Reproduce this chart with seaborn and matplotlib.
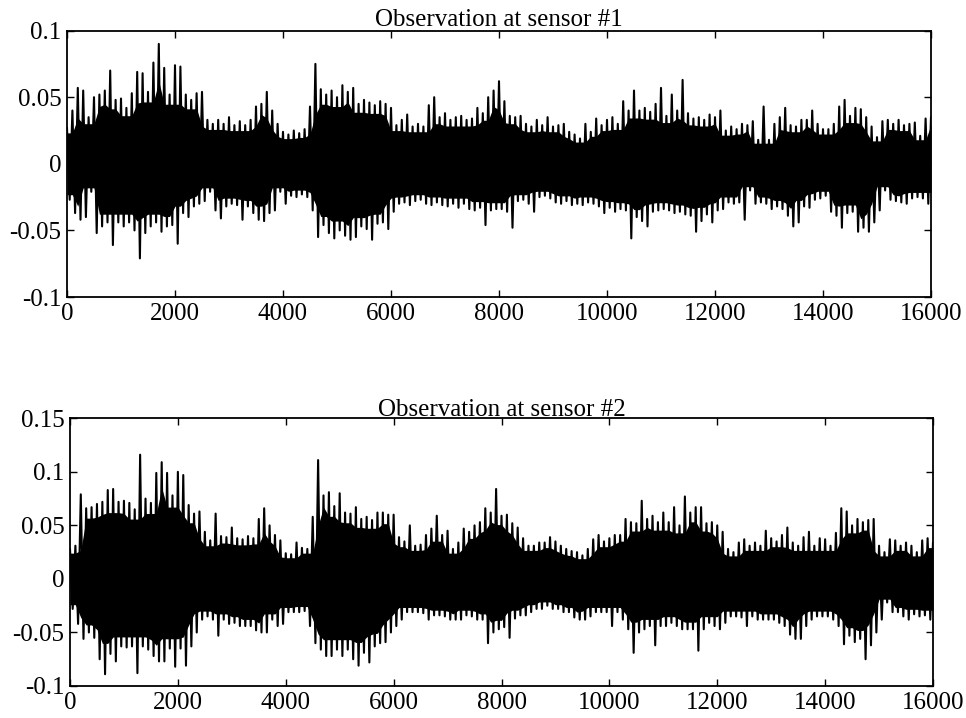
import numpy as np
import pandas as pd
import matplotlib
matplotlib.use("Agg")
import matplotlib.pyplot as plt
import seaborn as sns

# sample index of each envelope reading (every 100 samples)
samples = list(range(0, 16001, 100))

# sensor #1: upper / lower envelope
s1_hi = [0.027, 0.040, 0.057, 0.055, 0.035, 0.050, 0.052, 0.055, 0.070, 0.048,
         0.049, 0.042, 0.053, 0.069, 0.068, 0.054, 0.076, 0.090, 0.072, 0.052,
         0.074, 0.073, 0.052, 0.048, 0.053, 0.054, 0.033, 0.030, 0.033, 0.030,
         0.035, 0.029, 0.032, 0.029, 0.033, 0.043, 0.045, 0.054, 0.040, 0.030,
         0.024, 0.022, 0.025, 0.023, 0.026, 0.043, 0.075, 0.056, 0.052, 0.055,
         0.050, 0.059, 0.054, 0.057, 0.045, 0.048, 0.046, 0.044, 0.047, 0.045,
         0.042, 0.029, 0.033, 0.037, 0.028, 0.030, 0.028, 0.044, 0.050, 0.035,
         0.038, 0.033, 0.035, 0.036, 0.033, 0.034, 0.042, 0.038, 0.050, 0.055,
         0.062, 0.047, 0.036, 0.035, 0.036, 0.030, 0.028, 0.033, 0.029, 0.035,
         0.028, 0.029, 0.030, 0.024, 0.022, 0.019, 0.030, 0.024, 0.034, 0.029,
         0.033, 0.035, 0.030, 0.047, 0.040, 0.055, 0.040, 0.042, 0.039, 0.045,
         0.057, 0.036, 0.052, 0.040, 0.063, 0.038, 0.034, 0.035, 0.033, 0.037,
         0.035, 0.040, 0.025, 0.028, 0.026, 0.030, 0.029, 0.032, 0.018, 0.043,
         0.018, 0.030, 0.035, 0.042, 0.029, 0.028, 0.033, 0.033, 0.040, 0.030,
         0.026, 0.026, 0.030, 0.043, 0.048, 0.036, 0.042, 0.041, 0.035, 0.028,
         0.020, 0.032, 0.033, 0.030, 0.033, 0.029, 0.030, 0.031, 0.021, 0.034,
         0.035]
s1_lo = [-0.027, -0.037, -0.042, -0.040, -0.021, -0.052, -0.047, -0.044, -0.061, -0.044,
         -0.047, -0.044, -0.050, -0.071, -0.052, -0.047, -0.044, -0.051, -0.047, -0.046,
         -0.060, -0.037, -0.040, -0.032, -0.030, -0.028, -0.021, -0.035, -0.041, -0.032,
         -0.030, -0.031, -0.042, -0.032, -0.037, -0.042, -0.043, -0.037, -0.035, -0.021,
         -0.030, -0.024, -0.025, -0.023, -0.025, -0.035, -0.055, -0.046, -0.052, -0.056,
         -0.050, -0.054, -0.057, -0.055, -0.047, -0.049, -0.057, -0.045, -0.044, -0.049,
         -0.036, -0.030, -0.029, -0.031, -0.028, -0.027, -0.030, -0.031, -0.029, -0.031,
         -0.032, -0.030, -0.033, -0.030, -0.034, -0.035, -0.033, -0.046, -0.035, -0.034,
         -0.034, -0.036, -0.048, -0.028, -0.027, -0.030, -0.036, -0.025, -0.024, -0.026,
         -0.029, -0.030, -0.028, -0.031, -0.030, -0.031, -0.029, -0.030, -0.032, -0.037,
         -0.033, -0.036, -0.034, -0.035, -0.056, -0.040, -0.043, -0.047, -0.036, -0.035,
         -0.034, -0.035, -0.037, -0.036, -0.038, -0.039, -0.051, -0.043, -0.038, -0.044,
         -0.035, -0.034, -0.029, -0.030, -0.029, -0.042, -0.020, -0.030, -0.029, -0.030,
         -0.034, -0.032, -0.034, -0.039, -0.047, -0.044, -0.032, -0.033, -0.027, -0.026,
         -0.024, -0.036, -0.039, -0.048, -0.037, -0.036, -0.051, -0.048, -0.051, -0.044,
         -0.035, -0.020, -0.027, -0.028, -0.029, -0.030, -0.026, -0.025, -0.026, -0.030,
         -0.025]

# sensor #2
s2_hi = [0.028, 0.031, 0.079, 0.066, 0.067, 0.070, 0.072, 0.083, 0.084, 0.072,
         0.073, 0.071, 0.065, 0.116, 0.075, 0.071, 0.099, 0.109, 0.099, 0.078,
         0.100, 0.097, 0.069, 0.061, 0.063, 0.044, 0.036, 0.061, 0.040, 0.039,
         0.048, 0.038, 0.037, 0.040, 0.038, 0.056, 0.066, 0.050, 0.041, 0.036,
         0.024, 0.023, 0.034, 0.029, 0.028, 0.058, 0.111, 0.078, 0.081, 0.068,
         0.080, 0.062, 0.061, 0.067, 0.056, 0.058, 0.055, 0.062, 0.062, 0.060,
         0.060, 0.039, 0.035, 0.050, 0.031, 0.032, 0.041, 0.047, 0.059, 0.041,
         0.045, 0.028, 0.034, 0.047, 0.044, 0.050, 0.053, 0.066, 0.062, 0.084,
         0.059, 0.060, 0.052, 0.048, 0.038, 0.031, 0.031, 0.034, 0.034, 0.039,
         0.035, 0.031, 0.028, 0.026, 0.025, 0.022, 0.028, 0.037, 0.041, 0.035,
         0.038, 0.041, 0.041, 0.056, 0.053, 0.052, 0.073, 0.056, 0.059, 0.053,
         0.062, 0.053, 0.067, 0.050, 0.077, 0.062, 0.067, 0.067, 0.052, 0.053,
         0.050, 0.044, 0.028, 0.025, 0.034, 0.037, 0.031, 0.034, 0.031, 0.045,
         0.038, 0.035, 0.041, 0.048, 0.034, 0.031, 0.039, 0.044, 0.031, 0.038,
         0.037, 0.031, 0.043, 0.066, 0.063, 0.050, 0.056, 0.053, 0.055, 0.056,
         0.031, 0.025, 0.037, 0.036, 0.031, 0.034, 0.031, 0.025, 0.036, 0.038,
         0.034]
s2_lo = [-0.028, -0.042, -0.056, -0.050, -0.055, -0.075, -0.089, -0.070, -0.077, -0.063,
         -0.064, -0.063, -0.088, -0.063, -0.066, -0.072, -0.077, -0.077, -0.065, -0.082,
         -0.065, -0.081, -0.063, -0.050, -0.038, -0.035, -0.038, -0.053, -0.038, -0.042,
         -0.041, -0.044, -0.044, -0.044, -0.048, -0.050, -0.050, -0.038, -0.044, -0.042,
         -0.031, -0.031, -0.031, -0.030, -0.044, -0.060, -0.066, -0.072, -0.072, -0.066,
         -0.072, -0.066, -0.075, -0.081, -0.069, -0.078, -0.063, -0.060, -0.059, -0.050,
         -0.044, -0.038, -0.031, -0.031, -0.031, -0.032, -0.038, -0.034, -0.034, -0.035,
         -0.038, -0.038, -0.038, -0.034, -0.035, -0.038, -0.038, -0.060, -0.050, -0.047,
         -0.045, -0.055, -0.037, -0.034, -0.034, -0.031, -0.028, -0.028, -0.025, -0.028,
         -0.028, -0.031, -0.031, -0.036, -0.038, -0.038, -0.035, -0.031, -0.031, -0.031,
         -0.044, -0.031, -0.038, -0.047, -0.069, -0.050, -0.047, -0.044, -0.062, -0.044,
         -0.044, -0.041, -0.044, -0.047, -0.047, -0.047, -0.067, -0.047, -0.041, -0.044,
         -0.047, -0.041, -0.035, -0.035, -0.036, -0.044, -0.035, -0.038, -0.038, -0.038,
         -0.038, -0.041, -0.044, -0.052, -0.056, -0.056, -0.044, -0.038, -0.035, -0.035,
         -0.035, -0.038, -0.044, -0.061, -0.053, -0.059, -0.056, -0.075, -0.062, -0.050,
         -0.038, -0.022, -0.031, -0.031, -0.035, -0.038, -0.033, -0.035, -0.034, -0.038,
         -0.034]

titles = ["Observation at sensor #1", "Observation at sensor #2"]
xticks = [0, 2000, 4000, 6000, 8000, 10000, 12000, 14000, 16000]
yticks1 = [-0.1, -0.05, 0, 0.05, 0.1]
ylabels1 = ["-0.1", "-0.05", "0", "0.05", "0.1"]
yticks2 = [-0.1, -0.05, 0, 0.05, 0.1, 0.15]
ylabels2 = ["-0.1", "-0.05", "0", "0.05", "0.1", "0.15"]


def zigzag(hi, lo):
    # alternate between the upper and lower envelope to mimic the dense trace
    xs, ys = [], []
    for s, h, l in zip(samples, hi, lo):
        xs += [s, s + 50]
        ys += [h, l]
    return pd.DataFrame({"sample": xs, "value": ys})


def core(hi, lo, frac=0.86):
    # solid middle of the trace, a bit inside the smaller neighbouring reading
    h = np.array(hi)
    l = np.array(lo)
    hp = np.concatenate([[h[0]], h, [h[-1]]])
    lp = np.concatenate([[l[0]], l, [l[-1]]])
    ch = np.minimum(np.minimum(hp[:-2], hp[1:-1]), hp[2:])
    cl = np.maximum(np.maximum(lp[:-2], lp[1:-1]), lp[2:])
    return ch * frac, cl * frac


sns.set_style("ticks")
plt.rcParams["font.family"] = ["Liberation Serif", "DejaVu Serif"]
plt.rcParams["font.size"] = 18
plt.rcParams["text.color"] = "black"

fig = plt.figure(figsize=(9.66, 7.18), dpi=100)
ax1 = fig.add_axes([67 / 966, 1 - 297 / 718, 864 / 966, 266.4 / 718])
ax2 = fig.add_axes([70 / 966, 1 - 686 / 718, 863 / 966, 267.7 / 718])

panels = [
    (ax1, s1_hi, s1_lo, titles[0], yticks1, ylabels1, (-0.1, 0.1), 3.5),
    (ax2, s2_hi, s2_lo, titles[1], yticks2, ylabels2, (-0.1, 0.15), 1.5),
]

for ax, hi, lo, title, yt, yl, ylim, pad in panels:
    ch, cl = core(hi, lo)
    ax.fill_between(samples, cl, ch, color="black", lw=0)
    df = zigzag(hi, lo)
    sns.lineplot(data=df, x="sample", y="value", ax=ax, sort=False,
                 estimator=None, color="black", lw=1.5)
    ax.set_xlim(0, 16000)
    ax.set_ylim(*ylim)
    ax.set_xticks(xticks)
    ax.set_xticklabels([str(t) for t in xticks])
    ax.set_yticks(yt)
    ax.set_yticklabels(yl)
    ax.set_xlabel("")
    ax.set_ylabel("")
    ax.set_title(title, fontsize=18, pad=pad, color="black")
    ax.tick_params(direction="in", length=5, width=1, top=True, right=True,
                   labelsize=18, pad=4, colors="black")
    for sp in ax.spines.values():
        sp.set_visible(True)
        sp.set_linewidth(1.3)
        sp.set_color("black")

fig.savefig("out.png", dpi=100)
